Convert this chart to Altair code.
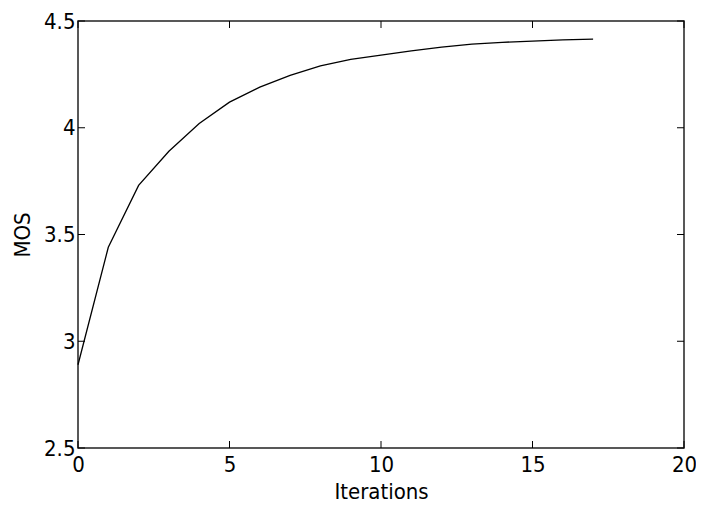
import altair as alt
import pandas as pd

iterations = list(range(0, 18))
mos = [2.89, 3.44, 3.73, 3.89, 4.02, 4.12, 4.19, 4.245, 4.29, 4.32, 4.34,
       4.36, 4.378, 4.392, 4.40, 4.406, 4.412, 4.415]
x_ticks = [0, 5, 10, 15, 20]
y_ticks = [2.5, 3.0, 3.5, 4.0, 4.5]

W, H = 606, 427
FONT = "DejaVu Sans Condensed"

df = pd.DataFrame({"it": iterations, "mos": mos})
xt = pd.DataFrame({"it": x_ticks})
yt = pd.DataFrame({"mos": y_ticks})

xscale = alt.Scale(domain=[0, 20], nice=False, zero=False)
yscale = alt.Scale(domain=[2.5, 4.5], nice=False, zero=False)

label_expr = "datum.value == 3 ? '3' : datum.value == 4 ? '4' : format(datum.value, '.1f')"

xaxis = alt.Axis(values=x_ticks, ticks=False, domain=False, grid=False,
                 labelFlush=False, labelOverlap=False, labelBound=False,
                 labelPadding=6, titlePadding=6, format="d")
yaxis = alt.Axis(values=y_ticks, ticks=False, domain=False, grid=False,
                 labelFlush=False, labelOverlap=False, labelBound=False,
                 labelPadding=3, titlePadding=9, labelExpr=label_expr)

X = alt.X("it:Q", scale=xscale, title="Iterations", axis=xaxis)
Y = alt.Y("mos:Q", scale=yscale, title="MOS", axis=yaxis)

line = alt.Chart(df).mark_line(color="black", strokeWidth=1.3).encode(x=X, y=Y)

xb = alt.Chart(xt).mark_rule(color="black", strokeWidth=1).encode(
    x=X, y=alt.value(H), y2=alt.value(H - 7))
xtop = alt.Chart(xt).mark_rule(color="black", strokeWidth=1).encode(
    x=X, y=alt.value(0), y2=alt.value(7))
yl = alt.Chart(yt).mark_rule(color="black", strokeWidth=1).encode(
    y=Y, x=alt.value(0), x2=alt.value(7))
yr = alt.Chart(yt).mark_rule(color="black", strokeWidth=1).encode(
    y=Y, x=alt.value(W), x2=alt.value(W - 7))

chart = alt.layer(line, xb, xtop, yl, yr).properties(
    width=W, height=H,
    autosize=alt.AutoSizeParams(type="none"),
    padding={"left": 70, "top": 13, "right": 12, "bottom": 55},
).configure_view(stroke="#222222", strokeWidth=1.5).configure_axis(
    labelFont=FONT, titleFont=FONT, labelFontSize=22, titleFontSize=22,
    labelColor="black", titleColor="black", titleFontWeight="normal",
)

chart.save("out.html", embed_options={"renderer": "svg", "actions": False})
